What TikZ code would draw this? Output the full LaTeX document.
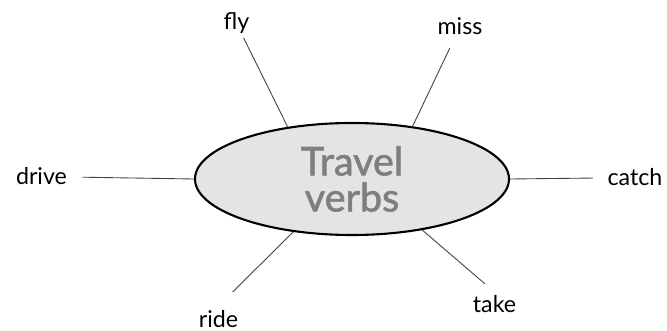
\documentclass[tikz,border=0pt]{standalone}
\usepackage{fontspec}
\setmainfont{Lato}
\newfontfamily\titlefont[FakeBold=1.6]{Lato}
\usetikzlibrary{shapes.geometric}
\definecolor{bubble}{HTML}{E4E4E6}
\definecolor{titlegray}{HTML}{7F7F7F}
\begin{document}
\begin{tikzpicture}[verb/.style={font=\fontsize{13.2}{15}\selectfont,anchor=base,inner sep=2pt},
  spoke/.style={draw=black!75,line width=.5pt}]
\useasboundingbox (0,0) rectangle (13.34,-6.62);
\node[ellipse,draw,line width=1.2pt,fill=bubble,minimum width=6.28cm,minimum height=2.24cm,inner sep=0pt,
  align=center,text=titlegray,font=\titlefont\fontsize{22.5}{20.5}\selectfont] (tv) at (7.04,-3.58) {Travel\\verbs};
\node[verb] (fly) at (4.73,-.60) {fly};
\node[verb] (miss) at (9.20,-.70) {miss};
\node[verb] (drive) at (.83,-3.70) {drive};
\node[verb] (catch) at (12.70,-3.72) {catch};
\node[verb] (ride) at (4.37,-6.54) {ride};
\node[verb] (take) at (9.89,-6.26) {take};
\draw[spoke] (tv.141)--(fly);
\draw[spoke,shorten >=.2cm] (tv.41)--(miss);
\draw[spoke,shorten >=.23cm] (tv.180)--(drive);
\draw[spoke,shorten >=.22cm] (tv.0)--(catch);
\draw[spoke,shorten >=.4cm] (tv.222)--(ride.north);
\draw[spoke,shorten >=.25cm] (tv.324)--(take.north);
\end{tikzpicture}
\end{document}
